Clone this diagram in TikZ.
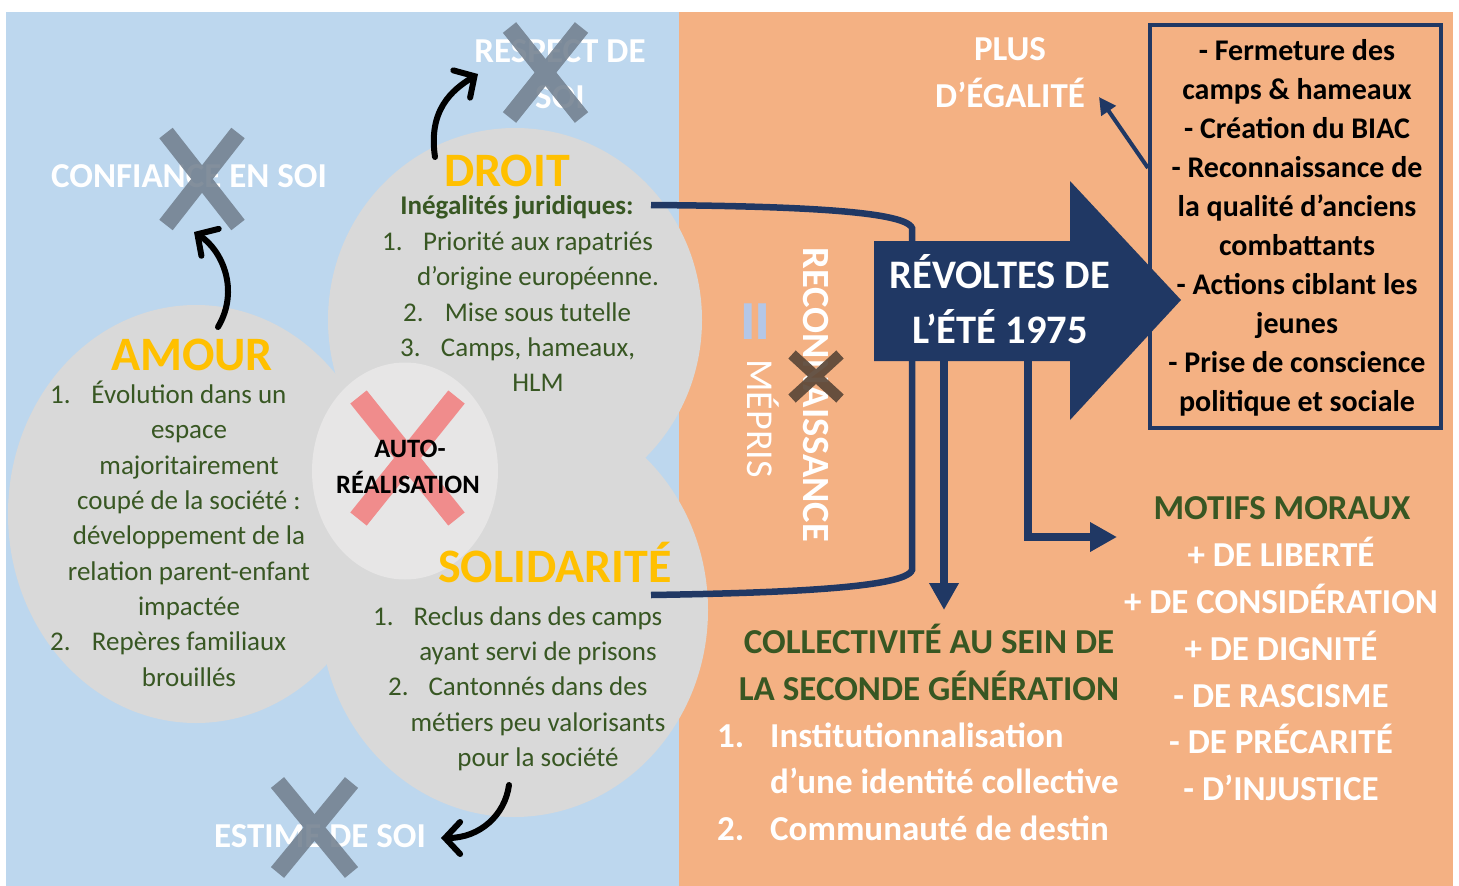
\documentclass[tikz,border=0pt]{standalone}
\usepackage{fontspec}
\setmainfont{Carlito}
\usetikzlibrary{arrows.meta,shapes.geometric}
\definecolor{bgblue}{HTML}{BDD7EE}
\definecolor{bgorange}{HTML}{F4B183}
\definecolor{cgrey}{HTML}{D9D9D9}
\definecolor{cgreylt}{HTML}{E7E6E6}
\definecolor{cyellow}{HTML}{FFC000}
\definecolor{cgreen}{HTML}{385723}
\definecolor{navy}{HTML}{203864}
\definecolor{xgrey}{HTML}{72808F}
\definecolor{xbrown}{HTML}{5B4738}
\definecolor{xred}{HTML}{F08C8C}
\definecolor{eqblue}{HTML}{B4C7E7}
\newcommand\fsz[1]{\fontsize{#1}{#1}\selectfont}
% cross: centre x, centre y, half extent x, half extent y, colour, line width, opacity
\newcommand\drawcross[7]{%
  \draw[draw=#5, line width=#6pt, line cap=butt, opacity=#7]
    ({#1-#3},{#2-#4}) -- ({#1+#3},{#2+#4})
    ({#1+#3},{#2-#4}) -- ({#1-#3},{#2+#4});}
\tikzset{
  lbl/.style={inner sep=0pt, anchor=base},
  wlabel/.style={lbl, text=white, font=\fsz{35}\bfseries},
  ytitle/.style={lbl, text=cyellow, font=\fsz{48}\bfseries},
  gbody/.style={lbl, text=cgreen, font=\fsz{27}},
  gnum/.style={lbl, anchor=base west, text=cgreen, font=\fsz{27}},
  boxtxt/.style={lbl, text=black, font=\fsz{30}\bfseries},
  ghead/.style={lbl, text=cgreen, font=\fsz{35}\bfseries},
  wnum/.style={lbl, anchor=base west, text=white, font=\fsz{35}\bfseries},
  blob/.style={ellipse, fill=cgrey, inner sep=0pt},
  navyline/.style={draw=navy, line width=6.5pt},
  navyarrow/.style={draw=navy, line width=7.5pt, -{Triangle[length=27pt,width=28pt]}},
  blackarrow/.style={draw=black, line width=6pt, line cap=round, -{Straight Barb[length=15pt,width=32pt,line cap=round]}},
}
\begin{document}
\begin{tikzpicture}[x=1pt,y=-1pt]
\useasboundingbox (0,0) rectangle (1459,886);
\fill[white] (0,0) rectangle (1459,886);
\fill[bgblue] (6,12) rectangle (679,886);
\fill[bgorange] (679,12) rectangle (1453,886);

% grey blobs
\node[blob, minimum width=376pt, minimum height=418pt] (amourC) at (196,514) {};
\node[blob, minimum width=374pt, minimum height=384pt] (droitC) at (515,320) {};
\node[blob, minimum width=388pt, minimum height=414pt] (solC) at (514,610) {};
\node[ellipse, fill=cgreylt, inner sep=0pt, minimum width=186pt, minimum height=217pt] (autoC) at (405,471) {};

% big arrow and box
\fill[navy] (874,241) -- (1070,241) -- (1070,181) -- (1181,300) -- (1070,420) -- (1070,361) -- (874,361) -- cycle;
\node[draw=navy, line width=4.5pt, inner sep=0pt, minimum width=291pt, minimum height=403pt] (box) at (1295.5,226.5) {};

% connectors
\coordinate (droitOut) at (651,205);
\coordinate (solOut) at (651,595);
\coordinate (revT) at (912,243);
\coordinate (revB1) at (912,359);
\coordinate (revB2) at (944,359);
\coordinate (revB3) at (1028,359);
\coordinate (collTip) at (944,610);
\coordinate (motTip) at (1117,537);
\coordinate (boxP) at (1148,168);
\coordinate (plusTip) at (1099,97);
\draw[navyline] (droitOut) .. controls (780,206) and (905,210) .. (912,228) -- (revT);
\draw[navyline] (solOut) .. controls (780,593) and (906,588) .. (912,570) -- (revB1);
\draw[navyarrow] (revB2) -- (collTip);
\draw[navyarrow] (revB3) |- (motTip);
\draw[draw=navy, line width=4pt, -{Triangle[length=17pt,width=17pt]}] (boxP) -- (plusTip);

\coordinate (amA) at (218,327);
\coordinate (confTip) at (194,232);
\coordinate (drA) at (435,157);
\coordinate (respTip) at (478,74);
\coordinate (soA) at (509,785);
\coordinate (estTip) at (441,838);
\draw[blackarrow] (amA) .. controls (240,290) and (222,250) .. (confTip);
\draw[blackarrow] (drA) .. controls (428,110) and (452,90) .. (respTip);
\draw[blackarrow] (soA) .. controls (505,815) and (480,838) .. (estTip);

% red cross under AUTO-REALISATION text
\drawcross{407.5}{458}{49}{61}{xred}{21}{1}

% white labels (left)
\node[wlabel] (conf) at (189,187) {CONFIANCE EN SOI};
\node[wlabel] (resp1) at (560,62) {RESPECT DE};
\node[wlabel] (resp2) at (560,108) {SOI};
\node[wlabel] (estime) at (320,847) {ESTIME DE SOI};

% titles
\node[ytitle] (amourT) at (192,370) {AMOUR};
\node[ytitle] (droitT) at (507,186) {DROIT};
\node[ytitle] (solT) at (555,582) {SOLIDARITÉ};

% AMOUR list
\foreach \t/\y [count=\i] in {{Évolution dans un}/403, espace/438.5, majoritairement/474, {coupé de la société :}/509, {développement de la}/544.5, {relation parent-enfant}/580, impactée/615, {Repères familiaux}/650.5, brouillés/686}
  \node[gbody] (am\i) at (189,\y) {\t};
\node[gnum] (amn1) at (50,403) {1.};
\node[gnum] (amn2) at (50,650.5) {2.};

% DROIT list
\node[lbl, text=cgreen, font=\fsz{27}\bfseries] (ineg) at (517,214) {Inégalités juridiques:};
\foreach \t/\y [count=\i] in {{Priorité aux rapatriés}/250, {d’origine européenne.}/285.5, {Mise sous tutelle}/321, {Camps, hameaux,}/356, HLM/391}
  \node[gbody] (dr\i) at (538,\y) {\t};
\node[gnum] (drn1) at (382,250) {1.};
\node[gnum] (drn2) at (403,321) {2.};
\node[gnum] (drn3) at (400,356) {3.};

% SOLIDARITE list
\foreach \t/\y [count=\i] in {{Reclus dans des camps}/625, {ayant servi de prisons}/660, {Cantonnés dans des}/695.6, {métiers peu valorisants}/731, {pour la société}/766}
  \node[gbody] (so\i) at (538,\y) {\t};
\node[gnum] (son1) at (373,625) {1.};
\node[gnum] (son2) at (388,695.6) {2.};

% AUTO-REALISATION
\node[lbl, font=\fsz{26.5}\bfseries] (auto1) at (410,457) {AUTO-};
\node[lbl, font=\fsz{26.5}\bfseries] (auto2) at (408,493) {RÉALISATION};

% right side texts
\node[wlabel] (plus1) at (1010,60) {PLUS};
\node[wlabel] (plus2) at (1010,107) {D’ÉGALITÉ};
\node[lbl, text=white, font=\fsz{40.5}\bfseries] (rev1) at (1000,288) {RÉVOLTES DE};
\node[lbl, text=white, font=\fsz{40.5}\bfseries] (rev2) at (1000,343) {L’ÉTÉ 1975};

\foreach \t/\y [count=\i] in {{- Fermeture des}/60, {camps \& hameaux}/99, {- Création du BIAC}/138, {- Reconnaissance de}/177, {la qualité d’anciens}/216, combattants/255, {- Actions ciblant les}/294, jeunes/333, {- Prise de conscience}/372, {politique et sociale}/411}
  \node[boxtxt] (bx\i) at (1297,\y) {\t};

\node[ghead] (coll1) at (929,653) {COLLECTIVITÉ AU SEIN DE};
\node[ghead] (coll2) at (929,700) {LA SECONDE GÉNÉRATION};
\node[wnum] (cn1) at (717,747) {1.};
\node[wnum] (ct1) at (770,747) {Institutionnalisation};
\node[wnum] (ct2) at (770,793) {d’une identité collective};
\node[wnum] (cn2) at (717,840) {2.};
\node[wnum] (ct3) at (770,840) {Communauté de destin};

\node[ghead] (motifs) at (1282,519) {MOTIFS MORAUX};
\foreach \t/\y [count=\i] in {{+ DE LIBERTÉ}/566, {+ DE CONSIDÉRATION}/613, {+ DE DIGNITÉ}/660, {- DE RASCISME}/707, {- DE PRÉCARITÉ}/753, {- D’INJUSTICE}/800}
  \node[wlabel] (mo\i) at (1281,\y) {\t};

% rotated texts
\node[lbl, rotate=-90, text=white, font=\fsz{38.5}\bfseries] (recon) at (803,395) {RECONNAISSANCE};
\node[lbl, rotate=-90, text=white, font=\fsz{38}] (mepris) at (747,418.5) {MÉPRIS};
\node[lbl, rotate=-90, text=eqblue, font=\fsz{85}\bfseries] (eq) at (728,322) {=};

% crosses over texts
\drawcross{202}{179}{36}{46}{xgrey}{17}{0.88}
\drawcross{545.5}{72.5}{36}{45}{xgrey}{17}{0.88}
\drawcross{314.5}{827.5}{37}{45}{xgrey}{17}{0.88}
\drawcross{816}{376.5}{24}{22}{xbrown}{11}{0.92}
\end{tikzpicture}
\end{document}
